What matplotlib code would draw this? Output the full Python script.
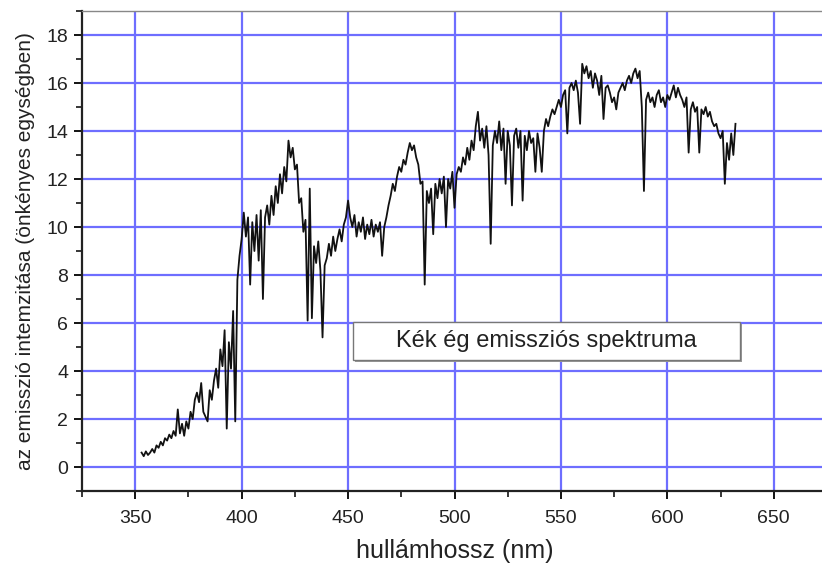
import numpy as np
import matplotlib
matplotlib.use("Agg")
import matplotlib.pyplot as plt
from matplotlib.patches import Rectangle
from matplotlib.ticker import MultipleLocator

plt.rcParams["font.family"] = ["Liberation Sans", "DejaVu Sans"]

# wavelength (nm), 1 nm steps
wavelength = np.arange(353, 633)
# intensity (arbitrary units)
intensity = [
    0.6, 0.45, 0.65, 0.5, 0.6, 0.75, 0.6, 0.9, 0.8, 1.05,
    0.9, 1.2, 1.1, 1.35, 1.2, 1.5, 1.3, 2.4, 1.4, 1.8,
    1.3, 1.9, 1.6, 2.3, 2.0, 2.8, 3.1, 2.7, 3.5, 2.3,
    2.1, 1.9, 3.2, 2.8, 3.6, 4.1, 3.3, 4.9, 4.2, 5.7,
    1.6, 5.2, 4.1, 6.5, 1.9, 7.8, 8.8, 9.5, 10.6, 9.6,
    10.4, 7.6, 10.2, 9.0, 10.5, 8.6, 10.7, 7.0, 10.4, 10.9,
    10.1, 11.3, 10.5, 11.7, 11.0, 12.2, 11.4, 12.5, 11.9, 13.6,
    12.9, 13.3, 12.4, 12.6, 11.0, 11.2, 9.8, 10.3, 6.1, 11.6,
    6.2, 9.2, 8.5, 9.4, 8.2, 5.4, 8.4, 8.7, 9.3, 8.8,
    9.6, 9.0, 9.5, 9.9, 9.4, 10.1, 10.4, 11.1, 10.4, 10.0,
    10.5, 9.6, 10.2, 9.8, 10.4, 9.5, 10.1, 9.7, 10.3, 9.6,
    10.1, 9.8, 10.2, 8.8, 10.0, 10.4, 10.9, 11.3, 11.8, 11.5,
    12.1, 12.5, 12.3, 12.8, 12.6, 13.1, 13.5, 13.2, 13.4, 12.9,
    12.6, 11.8, 11.9, 7.6, 11.5, 11.0, 11.6, 9.7, 11.8, 11.2,
    12.0, 11.4, 12.1, 10.0, 12.0, 11.6, 12.3, 10.8, 12.2, 12.5,
    12.3, 12.9, 12.6, 13.3, 12.8, 13.6, 13.2, 14.2, 14.8, 13.6,
    14.1, 13.3, 14.2, 13.0, 9.3, 13.4, 14.0, 13.5, 14.4, 13.2,
    14.1, 11.8, 14.0, 13.4, 10.9, 13.8, 14.1, 13.3, 14.0, 11.1,
    13.8, 13.2, 14.0, 13.5, 13.7, 12.3, 13.9, 13.3, 12.3, 14.0,
    14.5, 14.2, 14.6, 14.9, 14.7, 15.0, 15.3, 15.0, 15.5, 15.7,
    13.9, 15.8, 16.0, 15.7, 16.1, 15.6, 14.3, 16.8, 16.4, 16.7,
    16.2, 16.5, 15.8, 16.4, 16.1, 15.5, 16.3, 14.5, 15.8, 15.9,
    15.6, 15.2, 15.4, 14.9, 15.6, 15.8, 16.0, 15.7, 16.1, 16.3,
    16.0, 16.4, 16.6, 16.2, 16.5, 15.0, 11.5, 15.3, 15.6, 15.2,
    15.4, 15.0, 15.5, 15.7, 15.2, 15.4, 15.0, 15.5, 15.3, 15.6,
    15.9, 15.4, 15.8, 15.5, 15.3, 15.0, 15.4, 13.1, 14.9, 15.2,
    14.8, 15.0, 13.1, 14.9, 14.7, 15.0, 14.6, 14.8, 14.4, 14.2,
    14.3, 13.9, 13.7, 14.0, 11.8, 13.5, 12.8, 13.9, 13.0, 14.3,
]
legend_label = "Kék ég emissziós spektruma"

fig = plt.figure(figsize=(8.22, 5.67), dpi=100)
ax = fig.add_axes([82 / 822, 1 - 491 / 567, 745 / 822, 480 / 567])

ax.plot(wavelength, intensity, color="#111111", linewidth=1.3, zorder=3)

ax.set_xlim(325, 675)
ax.set_ylim(-1, 19)
ax.xaxis.set_major_locator(MultipleLocator(50))
ax.xaxis.set_minor_locator(MultipleLocator(25))
ax.yaxis.set_major_locator(MultipleLocator(2))
ax.yaxis.set_minor_locator(MultipleLocator(1))
ax.grid(True, which="major", color="#6e6eff", linewidth=1.6, zorder=0)
ax.set_axisbelow(True)

ax.tick_params(which="major", direction="out", length=6, width=1.3,
               labelsize=14, pad=4, labelcolor="#222222")
ax.tick_params(which="minor", direction="out", length=4, width=1.1)
ax.tick_params(axis="x", which="major", pad=8)
ax.tick_params(top=False, right=False)

for s in ["left", "bottom"]:
    ax.spines[s].set_linewidth(1.6)
    ax.spines[s].set_color("#222222")
ax.spines["top"].set_color("#888888")
ax.spines["top"].set_linewidth(1.0)
ax.spines["right"].set_visible(False)

ax.set_xlabel("hullámhossz (nm)", fontsize=18, labelpad=8, color="#222222")
ax.set_ylabel("az emisszió intemzitása (önkényes egységben)", fontsize=15,
              labelpad=8, color="#222222")

# legend-like box with a small drop shadow
bx0, bx1 = (353 - 82) / 745, (740 - 82) / 745
by0, by1 = (491 - 360) / 480, (491 - 322) / 480
ax.add_patch(Rectangle((bx0 + 0.003, by0 - 0.005), bx1 - bx0, by1 - by0,
                       transform=ax.transAxes, facecolor="#999999",
                       edgecolor="none", zorder=4))
ax.add_patch(Rectangle((bx0, by0), bx1 - bx0, by1 - by0,
                       transform=ax.transAxes, facecolor="white",
                       edgecolor="#777777", linewidth=1.0, zorder=5))
ax.text((bx0 + bx1) / 2, (by0 + by1) / 2, legend_label, transform=ax.transAxes,
        ha="center", va="center", fontsize=17, color="#222222", zorder=6)

fig.savefig("out.png", dpi=100)
